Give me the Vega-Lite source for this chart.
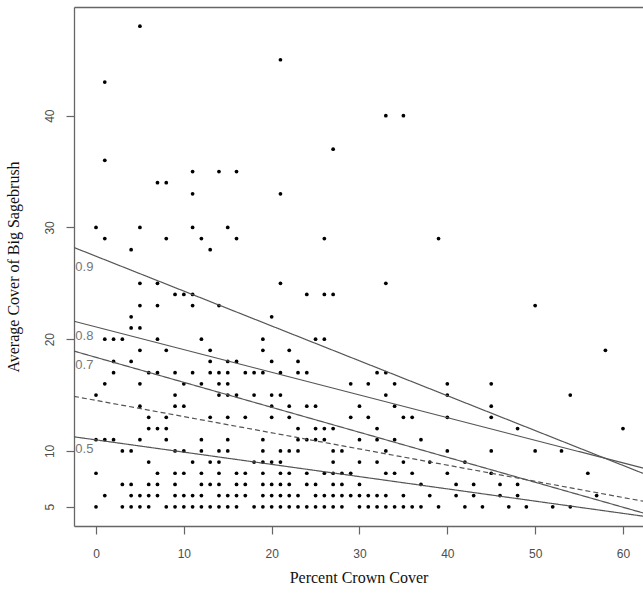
{
  "$schema": "https://vega.github.io/schema/vega-lite/v6.json",
  "width": 569,
  "height": 519,
  "autosize": "none",
  "padding": {"left": 74, "top": 7, "right": 0, "bottom": 74},
  "background": "white",
  "config": {
    "view": {"stroke": null},
    "axis": {
      "domainColor": "#666666",
      "domainWidth": 1.3,
      "tickColor": "#666666",
      "tickWidth": 1.2,
      "tickSize": 8,
      "grid": false,
      "labelFont": "Liberation Sans",
      "labelFontSize": 12,
      "labelColor": "#4d4d4d",
      "titleFont": "Liberation Serif",
      "titleFontSize": 16,
      "titleFontWeight": "normal",
      "titleColor": "#111111"
    }
  },
  "datasets": {
    "points": [
      {"x":5,"y":48},{"x":1,"y":43},{"x":1,"y":36},{"x":11,"y":35},{"x":14,"y":35},{"x":16,"y":35},{"x":7,"y":34},{"x":8,"y":34},{"x":11,"y":33},{"x":0,"y":30},{"x":5,"y":30},{"x":11,"y":30},{"x":15,"y":30},{"x":1,"y":29},{"x":8,"y":29},{"x":12,"y":29},{"x":16,"y":29},{"x":4,"y":28},{"x":13,"y":28},{"x":21,"y":45},{"x":33,"y":40},{"x":35,"y":40},{"x":27,"y":37},{"x":21,"y":33},{"x":26,"y":29},{"x":39,"y":29},
      {"x":5,"y":25},{"x":7,"y":25},{"x":9,"y":24},{"x":10,"y":24},{"x":11,"y":24},{"x":5,"y":23},{"x":7,"y":23},{"x":11,"y":23},{"x":14,"y":23},{"x":4,"y":22},{"x":4,"y":21},{"x":5,"y":21},{"x":1,"y":20},{"x":2,"y":20},{"x":3,"y":20},{"x":7,"y":20},{"x":12,"y":20},{"x":5,"y":19},{"x":8,"y":19},{"x":13,"y":19},{"x":2,"y":18},{"x":4,"y":18},{"x":13,"y":18},{"x":15,"y":18},{"x":16,"y":18},{"x":2,"y":17},{"x":6,"y":17},{"x":7,"y":17},{"x":9,"y":17},{"x":11,"y":17},{"x":13,"y":17},{"x":14,"y":17},{"x":15,"y":17},{"x":1,"y":16},{"x":5,"y":16},{"x":10,"y":16},{"x":12,"y":16},{"x":14,"y":16},{"x":15,"y":16},
      {"x":0,"y":15},{"x":9,"y":15},{"x":14,"y":15},{"x":15,"y":15},{"x":16,"y":15},
      {"x":5,"y":14},{"x":9,"y":14},{"x":10,"y":14},
      {"x":6,"y":13},{"x":8,"y":13},{"x":13,"y":13},{"x":15,"y":13},
      {"x":6,"y":12},{"x":7,"y":12},{"x":8,"y":12},
      {"x":0,"y":11},{"x":1,"y":11},{"x":2,"y":11},{"x":5,"y":11},{"x":8,"y":11},{"x":12,"y":11},{"x":15,"y":11},
      {"x":3,"y":10},{"x":4,"y":10},{"x":9,"y":10},{"x":10,"y":10},{"x":12,"y":10},{"x":14,"y":10},{"x":15,"y":10},
      {"x":6,"y":9},{"x":11,"y":9},{"x":13,"y":9},{"x":14,"y":9},
      {"x":0,"y":8},{"x":7,"y":8},{"x":9,"y":8},{"x":10,"y":8},{"x":12,"y":8},{"x":14,"y":8},{"x":16,"y":8},
      {"x":3,"y":7},{"x":4,"y":7},{"x":6,"y":7},{"x":7,"y":7},{"x":9,"y":7},{"x":12,"y":7},{"x":13,"y":7},{"x":14,"y":7},{"x":16,"y":7},
      {"x":1,"y":6},{"x":4,"y":6},{"x":5,"y":6},{"x":6,"y":6},{"x":7,"y":6},{"x":9,"y":6},{"x":10,"y":6},{"x":11,"y":6},{"x":12,"y":6},{"x":14,"y":6},{"x":15,"y":6},{"x":16,"y":6},
      {"x":0,"y":5},{"x":3,"y":5},{"x":4,"y":5},{"x":5,"y":5},{"x":6,"y":5},{"x":8,"y":5},{"x":9,"y":5},{"x":10,"y":5},{"x":11,"y":5},{"x":12,"y":5},{"x":13,"y":5},{"x":14,"y":5},{"x":15,"y":5},{"x":16,"y":5},
      {"x":21,"y":25},{"x":33,"y":25},{"x":24,"y":24},{"x":26,"y":24},{"x":27,"y":24},{"x":20,"y":22},{"x":19,"y":20},{"x":25,"y":20},{"x":26,"y":20},{"x":19,"y":19},{"x":22,"y":19},{"x":20,"y":18},{"x":23,"y":18},{"x":17,"y":17},{"x":18,"y":17},{"x":19,"y":17},{"x":21,"y":17},{"x":23,"y":17},{"x":24,"y":17},{"x":32,"y":17},{"x":33,"y":17},{"x":29,"y":16},{"x":31,"y":16},{"x":34,"y":16},
      {"x":18,"y":15},{"x":20,"y":15},{"x":21,"y":15},{"x":33,"y":15},
      {"x":20,"y":14},{"x":22,"y":14},{"x":24,"y":14},{"x":25,"y":14},{"x":30,"y":14},{"x":34,"y":14},
      {"x":17,"y":13},{"x":20,"y":13},{"x":22,"y":13},{"x":29,"y":13},{"x":31,"y":13},{"x":35,"y":13},
      {"x":23,"y":12},{"x":25,"y":12},{"x":26,"y":12},{"x":27,"y":12},{"x":32,"y":12},
      {"x":19,"y":11},{"x":23,"y":11},{"x":24,"y":11},{"x":25,"y":11},{"x":26,"y":11},{"x":30,"y":11},{"x":32,"y":11},{"x":34,"y":11},
      {"x":19,"y":10},{"x":21,"y":10},{"x":22,"y":10},{"x":23,"y":10},{"x":27,"y":10},{"x":28,"y":10},{"x":33,"y":10},
      {"x":18,"y":9},{"x":19,"y":9},{"x":20,"y":9},{"x":21,"y":9},{"x":27,"y":9},{"x":30,"y":9},{"x":32,"y":9},{"x":35,"y":9},
      {"x":17,"y":8},{"x":19,"y":8},{"x":21,"y":8},{"x":22,"y":8},{"x":24,"y":8},{"x":26,"y":8},{"x":27,"y":8},{"x":28,"y":8},{"x":29,"y":8},{"x":33,"y":8},{"x":34,"y":8},
      {"x":17,"y":7},{"x":19,"y":7},{"x":20,"y":7},{"x":21,"y":7},{"x":22,"y":7},{"x":24,"y":7},{"x":25,"y":7},{"x":27,"y":7},{"x":28,"y":7},{"x":30,"y":7},
      {"x":17,"y":6},{"x":19,"y":6},{"x":20,"y":6},{"x":21,"y":6},{"x":22,"y":6},{"x":23,"y":6},{"x":25,"y":6},{"x":26,"y":6},{"x":27,"y":6},{"x":28,"y":6},{"x":29,"y":6},{"x":30,"y":6},{"x":31,"y":6},{"x":32,"y":6},{"x":33,"y":6},{"x":35,"y":6},
      {"x":18,"y":5},{"x":19,"y":5},{"x":20,"y":5},{"x":21,"y":5},{"x":22,"y":5},{"x":23,"y":5},{"x":24,"y":5},{"x":25,"y":5},{"x":26,"y":5},{"x":27,"y":5},{"x":28,"y":5},{"x":30,"y":5},{"x":31,"y":5},{"x":32,"y":5},{"x":33,"y":5},{"x":34,"y":5},{"x":35,"y":5},
      {"x":50,"y":23},{"x":58,"y":19},{"x":40,"y":16},{"x":45,"y":16},
      {"x":36,"y":13},{"x":37,"y":11},{"x":38,"y":9},{"x":36,"y":8},{"x":37,"y":7},{"x":38,"y":6},{"x":36,"y":5},{"x":37,"y":5},{"x":39,"y":5},{"x":40,"y":15},{"x":40,"y":13},{"x":40,"y":10},{"x":40,"y":8},{"x":41,"y":7},{"x":41,"y":6},{"x":42,"y":5},{"x":42,"y":9},{"x":43,"y":7},{"x":43,"y":6},{"x":44,"y":5},{"x":45,"y":14},{"x":45,"y":13},{"x":45,"y":10},{"x":45,"y":8},{"x":46,"y":7},{"x":46,"y":6},{"x":47,"y":5},{"x":48,"y":12},{"x":48,"y":7},{"x":48,"y":6},{"x":49,"y":5},{"x":50,"y":10},{"x":52,"y":5},{"x":53,"y":10},{"x":54,"y":15},{"x":54,"y":5},{"x":56,"y":8},{"x":57,"y":6},{"x":60,"y":12}
    ],
    "lines": [
      {"q":"0.9","kind":"solid","x":-2.505,"y":28.2},{"q":"0.9","kind":"solid","x":62.28,"y":7.99},
      {"q":"0.8","kind":"solid","x":-2.505,"y":21.6},{"q":"0.8","kind":"solid","x":62.28,"y":8.46},
      {"q":"0.7","kind":"solid","x":-2.505,"y":18.93},{"q":"0.7","kind":"solid","x":62.28,"y":4.45},
      {"q":"mean","kind":"dashed","x":-2.505,"y":14.88},{"q":"mean","kind":"dashed","x":62.28,"y":5.5},
      {"q":"0.5","kind":"solid","x":-2.505,"y":11.26},{"q":"0.5","kind":"solid","x":62.28,"y":4.16}
    ],
    "labels": [
      {"label":"0.9","x":-2.35,"y":26.5},
      {"label":"0.8","x":-2.35,"y":20.25},
      {"label":"0.7","x":-2.35,"y":17.66},
      {"label":"0.5","x":-2.35,"y":10.17}
    ]
  },
  "resolve": {"axis": {"x": "independent"}},
  "layer": [
    {
      "data": {"name": "points"},
      "mark": {"type": "circle", "size": 14, "color": "black", "opacity": 1},
      "encoding": {
        "x": {"field": "x", "type": "quantitative", "scale": {"domain": [-2.505, 62.28], "nice": false, "zero": false},
              "axis": {"orient": "bottom", "values": [0,10,20,30,40,50,60], "title": "Percent Crown Cover", "labelPadding": 14, "titlePadding": 10}},
        "y": {"field": "y", "type": "quantitative", "scale": {"domain": [3.28, 49.72], "nice": false, "zero": false},
              "axis": {"values": [5,10,20,30,40], "title": "Average Cover of Big Sagebrush", "labelAngle": 270, "labelAlign": "center", "labelBaseline": "bottom", "labelPadding": 10, "titlePadding": 22}}
      }
    },
    {
      "data": {"name": "lines"},
      "mark": {"type": "line", "color": "#555555", "strokeWidth": 1.2, "clip": true},
      "encoding": {
        "x": {"field": "x", "type": "quantitative", "axis": {"orient": "top", "labels": false, "ticks": false, "title": null, "domain": true}},
        "y": {"field": "y", "type": "quantitative"},
        "detail": {"field": "q"},
        "strokeDash": {"field": "kind", "type": "nominal", "scale": {"domain": ["solid","dashed"], "range": [[1,0],[5,3]]}, "legend": null}
      }
    },
    {
      "data": {"name": "labels"},
      "mark": {"type": "text", "align": "left", "baseline": "middle", "font": "Liberation Sans", "fontSize": 13, "color": "#777777"},
      "encoding": {
        "x": {"field": "x", "type": "quantitative", "axis": null},
        "y": {"field": "y", "type": "quantitative"},
        "text": {"field": "label"}
      }
    }
  ]
}
